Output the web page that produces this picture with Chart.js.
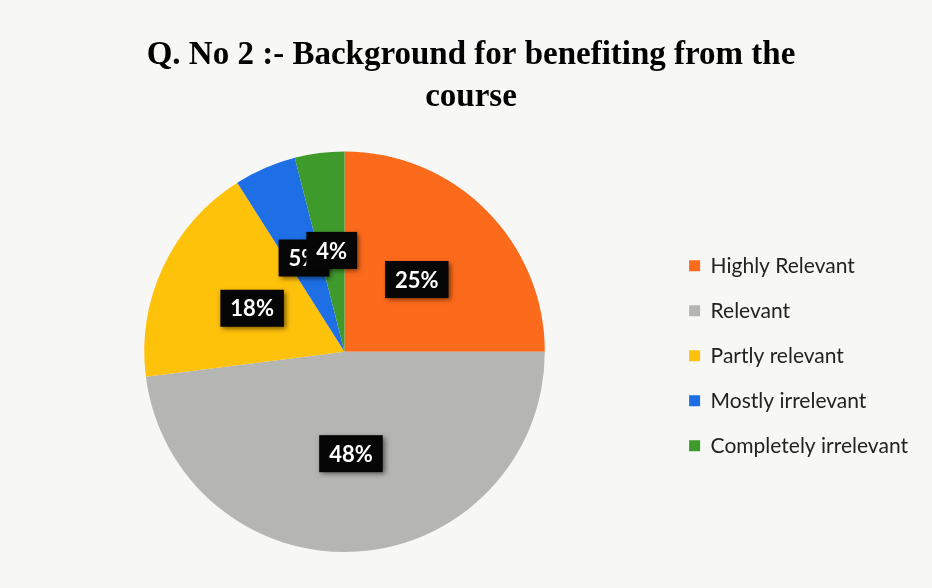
<!DOCTYPE html>
<html>
<head>
<meta charset="utf-8">
<script src="https://cdn.jsdelivr.net/npm/chart.js@4/dist/chart.umd.min.js"></script>
<style>
  html, body { margin: 0; padding: 0; background: #f7f7f5; }
  #wrap { width: 932px; height: 588px; position: relative; }
</style>
</head>
<body>
<div id="wrap"><canvas id="c" width="932" height="588"></canvas></div>
<script>
const titleLines = ["Q. No 2 :- Background for benefiting from the", "course"];
const categories = ["Highly Relevant", "Relevant", "Partly relevant", "Mostly irrelevant", "Completely irrelevant"];
const percentValues = [25, 48, 18, 5, 4];
const sliceColors = ["#fc6a1c", "#b5b5b3", "#ffc20a", "#1e6fe6", "#3f9a2c"];

const labelBoxes = {
  id: 'labelBoxes',
  afterDatasetsDraw(chart, args, opts) {
    const ctx = chart.ctx;
    const meta = chart.getDatasetMeta(0);
    ctx.save();
    ctx.font = opts.font;
    ctx.textAlign = 'center';
    ctx.textBaseline = 'middle';
    meta.data.forEach((arc, i) => {
      const p = arc.getProps(['x', 'y', 'startAngle', 'endAngle', 'outerRadius'], true);
      const mid = (p.startAngle + p.endAngle) / 2;
      const r = p.outerRadius * opts.radiusFrac;
      const cx = p.x + Math.cos(mid) * r;
      const cy = p.y + Math.sin(mid) * r;
      const txt = chart.data.datasets[0].data[i] + '%';
      const w = ctx.measureText(txt).width + opts.padX * 2;
      const h = opts.boxH;
      ctx.save();
      ctx.shadowColor = 'rgba(0,0,0,0.55)';
      ctx.shadowBlur = 5;
      ctx.shadowOffsetX = 2;
      ctx.shadowOffsetY = 2;
      ctx.fillStyle = '#060606';
      ctx.fillRect(cx - w / 2, cy - h / 2, w, h);
      ctx.restore();
      ctx.fillStyle = '#ffffff';
      ctx.fillText(txt, cx, cy + 1);
    });
    ctx.restore();
  }
};

new Chart(document.getElementById('c'), {
  type: 'pie',
  data: {
    labels: categories,
    datasets: [{
      data: percentValues,
      backgroundColor: sliceColors,
      borderWidth: 0
    }]
  },
  options: {
    responsive: false,
    animation: false,
    layout: { padding: { left: 24, right: 14, top: 8, bottom: 36 } },
    plugins: {
      title: {
        display: true,
        text: titleLines,
        color: '#000',
        font: { family: 'Liberation Serif', size: 33, weight: 'bold', lineHeight: 1.28 },
        padding: { top: 26, bottom: 33 }
      },
      legend: {
        position: 'right',
        align: 'center',
        fullSize: false,
        title: { display: true, text: '', font: { size: 1, lineHeight: 1 }, padding: { top: 0, bottom: 7 } },
        labels: {
          boxWidth: 11,
          boxHeight: 11,
          padding: 24,
          color: '#222',
          font: { family: 'Lato', size: 21 }
        }
      },
      tooltip: { enabled: false },
      labelBoxes: {
        font: 'bold 22px Lato',
        radiusFrac: 0.51,
        padX: 10,
        boxH: 37
      }
    }
  },
  plugins: [labelBoxes]
});
</script>
</body>
</html>
